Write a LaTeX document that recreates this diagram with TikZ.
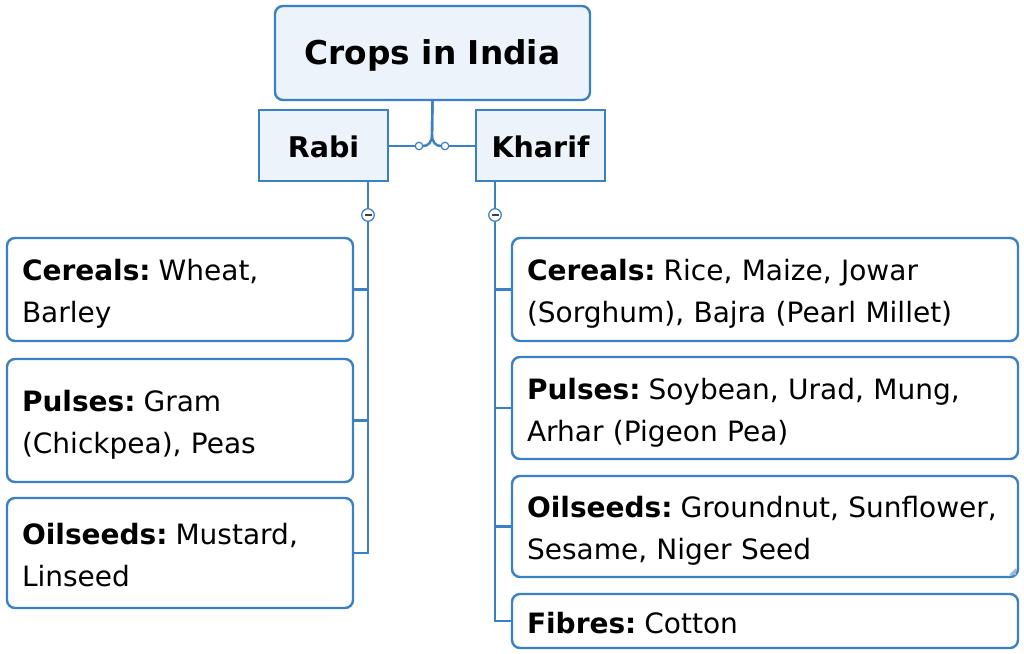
\documentclass[tikz,border=0pt]{standalone}
\usepackage{fontspec}
\setmainfont{DejaVu Sans}
\definecolor{bd}{RGB}{58,128,196}
\definecolor{lf}{RGB}{236,243,250}
\newcommand{\lstr}{\rule[-5pt]{0pt}{35pt}}
\newcommand{\rstr}{\rule[-5pt]{0pt}{35pt}}
\newcommand{\cstr}{\rule[-5pt]{0pt}{34pt}}
\newcommand{\lab}[1]{\textbf{#1:}\hspace{8pt}}
\begin{document}
\begin{tikzpicture}[x=1pt,y=-1pt,
 every node/.style={inner sep=0pt, outer sep=0pt},
 topbox/.style={draw=bd, fill=lf, line width=2.4pt, rounded corners=8pt, font=\bfseries\fontsize{32.8}{40}\selectfont, minimum width=315pt, minimum height=94pt},
 catbox/.style={draw=bd, fill=lf, line width=2.4pt, font=\bfseries\fontsize{28.5}{36}\selectfont, minimum width=129pt, minimum height=71pt},
 leaf/.style={draw=bd, fill=white, line width=2.4pt, rounded corners=8pt, font=\fontsize{28}{42}\selectfont, align=left, inner xsep=15pt, anchor=north west},
 lleaf/.style={leaf, text width=316pt},
 rleaf/.style={leaf, text width=476pt},
 conn/.style={draw=bd, line width=2.4pt},
 joint/.style={circle, draw=bd, fill=white, line width=1.2pt, minimum size=7.5pt},
 fold/.style={circle, draw=bd, fill=white, line width=1.2pt, minimum size=12.5pt},
 minus/.style={line width=1.3pt, black!75},
]
\fill[white] (0,0) rectangle (1024,653);
\useasboundingbox (0,0) rectangle (1024,653);

% main nodes
\node[topbox, anchor=north west] (root) at (275,6) {\rstr Crops in India};
\node[catbox, anchor=north west] (rabi) at (259,110) {\cstr Rabi};
\node[catbox, anchor=north west] (kharif) at (476,110) {\cstr Kharif};

% leaves left
\node[lleaf, minimum height=103pt] (lc) at (7,238) {\lstr\lab{Cereals}Wheat,\\\lstr Barley};
\node[lleaf, minimum height=123pt] (lp) at (7,359) {\lstr\lab{Pulses}Gram\\\lstr (Chickpea), Peas};
\node[lleaf, minimum height=110pt] (lo) at (7,498) {\lstr\lab{Oilseeds}Mustard,\\\lstr Linseed};

% leaves right
\node[rleaf, minimum height=103pt] (rc) at (512,238) {\lstr\lab{Cereals}Rice, Maize, Jowar\\\lstr (Sorghum), Bajra (Pearl Millet)};
\node[rleaf, minimum height=102pt] (rp) at (512,357) {\lstr\lab{Pulses}Soybean, Urad, Mung,\\\lstr Arhar (Pigeon Pea)};
\node[rleaf, minimum height=101pt] (ro) at (512,476) {\lstr\lab{Oilseeds}Groundnut, Sunflower,\\\lstr Sesame, Niger Seed};
\node[rleaf, minimum height=54pt] (rf) at (512,594) {\lstr\lab{Fibres}Cotton};
\fill[bd!55] ([shift={(-2pt,2pt)}]ro.south east) -- ++(0,-7) -- ++(-7,7) -- cycle;

% root connectors
\node[joint] (jl) at (419,146) {};
\node[joint] (jr) at (445,146) {};
\coordinate (jv) at (432,134);
\draw[conn] (root.south) -- (jv) .. controls (432,143) and (428,146) .. (jl.east);
\draw[conn] (root.south) -- (jv) .. controls (432,143) and (436,146) .. (jr.west);
\draw[conn] (jl.west) -- (jl.west -| rabi.east);
\draw[conn] (jr.east) -- (jr.east -| kharif.west);

% left stem
\coordinate (sl) at ([xshift=-20pt]rabi.south east);
\node[fold] (fl) at ([yshift=-34pt]sl) {};
\draw[minus] ([xshift=-3.5pt]fl.center) -- ([xshift=3.5pt]fl.center);
\draw[conn] (sl) -- (fl.north);
\draw[conn] (fl.south) |- (lo.east);
\draw[conn] (lc.east) -- (lc.east -| sl);
\draw[conn] (lp.east) -- (lp.east -| sl);

% right stem
\coordinate (sr) at ([xshift=19pt]kharif.south west);
\node[fold] (fr) at ([yshift=-34pt]sr) {};
\draw[minus] ([xshift=-3.5pt]fr.center) -- ([xshift=3.5pt]fr.center);
\draw[conn] (sr) -- (fr.north);
\draw[conn] (fr.south) |- (rf.west);
\draw[conn] (rc.west) -- (rc.west -| sr);
\draw[conn] (rp.west) -- (rp.west -| sr);
\draw[conn] (ro.west) -- (ro.west -| sr);
\end{tikzpicture}
\end{document}
